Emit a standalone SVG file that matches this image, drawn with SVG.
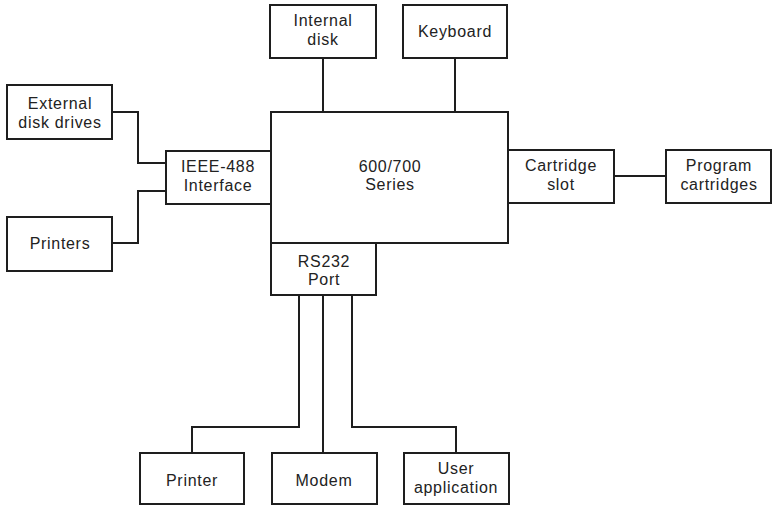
<svg xmlns="http://www.w3.org/2000/svg" width="774" height="506" viewBox="0 0 774 506">
<style>
.box{fill:#fff;stroke:#1e1e1e;stroke-width:2}
.ln{fill:none;stroke:#1e1e1e;stroke-width:2}
text{font-family:"Liberation Sans",Arial,sans-serif;font-size:16px;fill:#222;text-anchor:middle;letter-spacing:0.7px}
</style>
<rect width="774" height="506" fill="#fff"/>
<g id="connectors">
<polyline class="ln" points="112,112 138,112 138,163 166,163"/>
<polyline class="ln" points="112,243 138,243 138,191 166,191"/>
<line class="ln" x1="323" y1="58" x2="323" y2="112"/>
<line class="ln" x1="455" y1="58" x2="455" y2="112"/>
<line class="ln" x1="614" y1="176" x2="666" y2="176"/>
<polyline class="ln" points="299,295 299,427 192,427 192,453"/>
<line class="ln" x1="323" y1="295" x2="323" y2="453"/>
<polyline class="ln" points="352,295 352,427 456,427 456,453"/>
</g>
<g id="external-disk-drives"><rect class="box" x="7" y="85" width="105" height="54"/><text x="60" y="109">External</text><text x="60" y="128">disk drives</text></g>
<g id="printers"><rect class="box" x="7" y="217" width="105" height="54"/><text x="60" y="249">Printers</text></g>
<g id="ieee-488"><rect class="box" x="166" y="151" width="105" height="53"/><text x="218" y="172">IEEE-488</text><text x="218" y="191">Interface</text></g>
<g id="internal-disk"><rect class="box" x="270" y="5" width="106" height="53"/><text x="323" y="26">Internal</text><text x="323" y="45">disk</text></g>
<g id="keyboard"><rect class="box" x="403" y="5" width="104" height="53"/><text x="455" y="37">Keyboard</text></g>
<g id="series"><rect class="box" x="271" y="112" width="237" height="131"/><text x="390" y="172">600/700</text><text x="390" y="190">Series</text></g>
<g id="rs232"><rect class="box" x="271" y="243" width="105" height="52"/><text x="324" y="267">RS232</text><text x="324" y="285">Port</text></g>
<g id="cartridge-slot"><rect class="box" x="508" y="150" width="106" height="53"/><text x="561" y="171">Cartridge</text><text x="561" y="190">slot</text></g>
<g id="program-cartridges"><rect class="box" x="666" y="150" width="105" height="53"/><text x="719" y="171">Program</text><text x="719" y="190">cartridges</text></g>
<g id="printer"><rect class="box" x="140" y="453" width="104" height="51"/><text x="192" y="486">Printer</text></g>
<g id="modem"><rect class="box" x="272" y="453" width="105" height="51"/><text x="324" y="486">Modem</text></g>
<g id="user-application"><rect class="box" x="404" y="453" width="105" height="51"/><text x="456" y="474">User</text><text x="456" y="493">application</text></g>
</svg>
